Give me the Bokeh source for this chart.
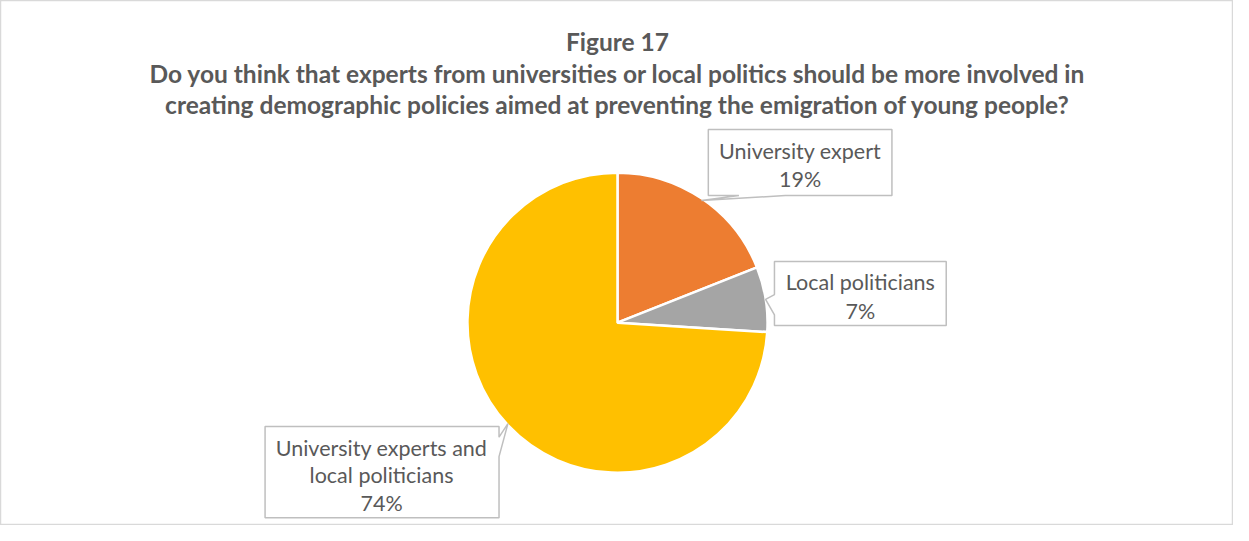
from math import pi
from bokeh.plotting import figure
from bokeh.models import Range1d
from bokeh.core.properties import value
from bokeh.embed import file_html
from bokeh.resources import INLINE

# ---- data ----
categories = ["University expert", "Local politicians", "University experts and local politicians"]
shares = [19, 7, 74]
colors = ["#ED7D31", "#A5A5A5", "#FFC000"]
label_lines = [["University expert"], ["Local politicians"], ["University experts and", "local politicians"]]
title_lines = [
    "Figure 17",
    "Do you think that experts from universities or local politics should be more involved in",
    "creating demographic policies aimed at preventing the emigration of young people?",
]

W, H = 1233, 525
RW, RH = 1249, 541  # reference canvas coordinates
def Y(py):
    return RH - py

p = figure(width=W, height=H, output_backend="svg", toolbar_location=None,
           x_range=Range1d(0, RW), y_range=Range1d(0, RH),
           min_border=0, border_fill_color="white", background_fill_color="white")
p.axis.visible = False
p.grid.visible = False
p.outline_line_color = "#d9d9d9"
p.outline_line_width = 1.5

# ---- pie ----
cx, cy, r = 625, Y(332), 152
total = sum(shares)
start = pi / 2
starts, ends = [], []
for s in shares:
    a = 2 * pi * s / total
    starts.append(start)
    ends.append(start - a)
    start -= a
p.wedge(x=[cx] * 3, y=[cy] * 3, radius=r, start_angle=starts, end_angle=ends,
        direction="clock", fill_color=colors, line_color="white", line_width=2.5)

# ---- title ----
txt_color = "#595959"
for t, py in zip(title_lines, [42, 75, 107]):
    p.text(x=[625], y=[Y(py)], text=[t], text_font=value("Lato"), text_font_style="bold",
           text_font_size="24.5px", text_color=txt_color, text_align="center", text_baseline="middle")

# ---- callout boxes ----
boxes = [
    [(717, 133), (903, 133), (903, 201), (795, 201), (710, 206), (748, 201), (717, 201)],
    [(784, 269), (958, 269), (958, 335), (784, 335), (784, 324), (775, 308), (784, 303)],
    [(268, 439), (505, 439), (505, 450), (514, 436), (505, 470), (505, 533), (268, 533)],
]
centers = [(810, [155, 184]), (871, [290, 320]), (386, [461, 489, 518])]
for pts, (tx, tys), lines, s in zip(boxes, centers, label_lines, shares):
    xs = [q[0] for q in pts]
    ys = [Y(q[1]) for q in pts]
    p.patch(xs, ys, fill_color="white", line_color="#bfbfbf", line_width=1.5)
    texts = lines + [f"{s}%"]
    p.text(x=[tx] * len(texts), y=[Y(t) for t in tys], text=texts, text_font=value("Lato"),
           text_font_size="21.5px", text_color=txt_color, text_align="center", text_baseline="middle")

open("out.html", "w").write(file_html(p, INLINE))
